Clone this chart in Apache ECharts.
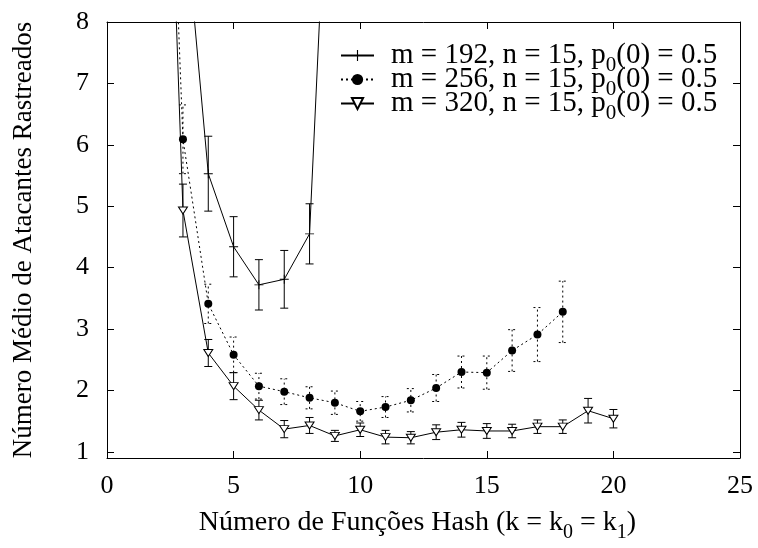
<!DOCTYPE html>
<html>
<head>
<meta charset="utf-8">
<script src="https://cdn.jsdelivr.net/npm/echarts@6/dist/echarts.min.js"></script>
<style>html,body{margin:0;padding:0;background:#fff;}#c{width:758px;height:548px;}</style>
</head>
<body>
<div id="c"></div>
<script>
// ---- data ----
const xTicks = [0, 5, 10, 15, 20, 25];
const yTicks = [1, 2, 3, 4, 5, 6, 7, 8];

const names = [
  'm = 192, n = 15, p0(0) = 0.5',
  'm = 256, n = 15, p0(0) = 0.5',
  'm = 320, n = 15, p0(0) = 0.5'
];

const k192 = [3, 4, 5, 6, 7, 8, 9];
const y192 = [10.1, 5.53, 4.34, 3.72, 3.81, 4.55, 13.4];
const e192 = [null, 0.61, 0.49, 0.41, 0.47, 0.49, null];

const k256 = [2, 3, 4, 5, 6, 7, 8, 9, 10, 11, 12, 13, 14, 15, 16, 17, 18];
const y256 = [16.7, 6.09, 3.41, 2.58, 2.07, 1.98, 1.88, 1.80, 1.66, 1.73, 1.84, 2.04, 2.30, 2.29, 2.65, 2.91, 3.28];
const e256 = [null, 0.56, 0.32, 0.29, 0.21, 0.21, 0.18, 0.19, 0.16, 0.17, 0.19, 0.22, 0.26, 0.27, 0.34, 0.44, 0.50];

const k320 = [2, 3, 4, 5, 6, 7, 8, 9, 10, 11, 12, 13, 14, 15, 16, 17, 18, 19, 20];
const y320 = [16.7, 4.93, 2.61, 2.07, 1.68, 1.37, 1.43, 1.26, 1.36, 1.24, 1.23, 1.32, 1.36, 1.34, 1.34, 1.41, 1.41, 1.67, 1.54];
const e320 = [null, 0.43, 0.22, 0.22, 0.16, 0.14, 0.13, 0.09, 0.11, 0.11, 0.10, 0.12, 0.12, 0.12, 0.11, 0.11, 0.11, 0.20, 0.15];

// ---- build ----
const FONT = 'Liberation Serif';
const DOT = [2, 3];

function pts(ks, ys) { return ks.map((k, i) => [k, ys[i]]); }
function bars(ks, ys, es) {
  const out = [];
  ks.forEach((k, i) => { if (es[i] != null) out.push([k, ys[i] - es[i], ys[i] + es[i]]); });
  return out;
}
function errSeries(data, dash) {
  return {
    type: 'custom',
    silent: true,
    clip: true,
    xAxisIndex: 0, yAxisIndex: 0,
    data: data,
    z: 1,
    renderItem: function (params, api) {
      const x = api.value(0), lo = api.value(1), hi = api.value(2);
      const a = api.coord([x, lo]), b = api.coord([x, hi]);
      const w = 4;
      const st = { stroke: '#000', lineWidth: 1, lineDash: dash || null, fill: null };
      return {
        type: 'group',
        children: [
          { type: 'line', shape: { x1: a[0], y1: a[1], x2: b[0], y2: b[1] }, style: st },
          { type: 'line', shape: { x1: a[0] - w, y1: a[1], x2: a[0] + w, y2: a[1] }, style: st },
          { type: 'line', shape: { x1: b[0] - w, y1: b[1], x2: b[0] + w, y2: b[1] }, style: st }
        ]
      };
    }
  };
}

const plusPath = 'path://M4.5,0h1v4.5h4.5v1h-4.5v4.5h-1v-4.5h-4.5v-1h4.5z';

const axisCommon = {
  axisLine: { show: true, onZero: false, lineStyle: { color: '#000', width: 1 } },
  splitLine: { show: false }
};

const subStyle = { fontFamily: FONT, fontSize: 21, height: 4, lineHeight: 4, verticalAlign: 'bottom', color: '#000' };

function legendFor(i) {
  return {
    data: [names[i]],
    orient: 'vertical',
    left: 340,
    top: 41 + 24 * i,
    padding: 0,
    itemGap: 0,
    itemWidth: 33,
    itemHeight: 14,
    selectedMode: false,
    formatter: function (n) {
      const j = n.indexOf('p0');
      return '{f|' + n.slice(0, j) + 'p}{s|0}{t|' + n.slice(j + 2) + '}';
    },
    textStyle: {
      color: '#000',
      fontFamily: FONT,
      fontSize: 29,
      lineHeight: 24,
      rich: {
        f: { fontFamily: FONT, fontSize: 29, lineHeight: 24, color: '#000', padding: [0, 0, 0, 12] },
        t: { fontFamily: FONT, fontSize: 29, lineHeight: 24, color: '#000' },
        s: subStyle
      }
    }
  };
}

const chart = echarts.init(document.getElementById('c'), null, { renderer: 'canvas' });
chart.setOption({
  animation: false,
  backgroundColor: '#fff',
  grid: { left: 107, right: 18, top: 22, bottom: 90, containLabel: false },
  legend: [legendFor(0), legendFor(1), legendFor(2)],
  xAxis: [
    Object.assign({}, axisCommon, {
      type: 'value', position: 'bottom', min: 0, max: 25, interval: 5,
      axisTick: { show: true, inside: true, length: 7, lineStyle: { color: '#000' } },
      axisLabel: { show: true, color: '#000', fontFamily: FONT, fontSize: 26, margin: 15 },
      name: 'Número de Funções Hash (k = k{s|0} = k{s|1})',
      nameLocation: 'middle',
      nameGap: 53,
      nameTextStyle: {
        color: '#000', fontFamily: FONT, fontSize: 28, lineHeight: 24,
        padding: [0, 12, 0, 0],
        rich: {
          s: Object.assign({}, subStyle, { fontSize: 20 })
        }
      }
    }),
    Object.assign({}, axisCommon, {
      type: 'value', position: 'top', min: 0, max: 25, interval: 5,
      axisTick: { show: true, inside: true, length: 7, lineStyle: { color: '#000' } },
      axisLabel: { show: false }
    })
  ],
  yAxis: [
    Object.assign({}, axisCommon, {
      type: 'value', position: 'left', min: 0.9, max: 8,
      axisTick: { show: true, inside: true, length: 7, customValues: yTicks, lineStyle: { color: '#000' } },
      axisLabel: { show: true, color: '#000', fontFamily: FONT, fontSize: 26, margin: 18, customValues: yTicks },
      name: 'Número Médio de Atacantes Rastreados',
      nameLocation: 'middle',
      nameGap: 70,
      nameTextStyle: { color: '#000', fontFamily: FONT, fontSize: 27 }
    }),
    Object.assign({}, axisCommon, {
      type: 'value', position: 'right', min: 0.9, max: 8,
      axisTick: { show: true, inside: true, length: 7, customValues: yTicks, lineStyle: { color: '#000' } },
      axisLabel: { show: false }
    })
  ],
  series: [
    errSeries(bars(k192, y192, e192), null),
    errSeries(bars(k256, y256, e256), DOT),
    errSeries(bars(k320, y320, e320), null),
    {
      name: names[0], type: 'line', data: pts(k192, y192), z: 3,
      symbol: plusPath, symbolSize: 9, showAllSymbol: true,
      lineStyle: { color: '#000', width: 1 },
      itemStyle: { color: '#000' }
    },
    {
      name: names[1], type: 'line', data: pts(k256, y256), z: 3,
      symbol: 'circle', symbolSize: 8, showAllSymbol: true,
      lineStyle: { color: '#000', width: 1, type: DOT },
      itemStyle: { color: '#000' }
    },
    {
      name: names[2], type: 'line', data: pts(k320, y320), z: 3,
      symbol: 'triangle', symbolRotate: 180, symbolSize: [9, 7], showAllSymbol: true,
      lineStyle: { color: '#000', width: 1 },
      itemStyle: { color: '#fff', borderColor: '#000', borderWidth: 1 }
    }
  ]
});
</script>
</body>
</html>
